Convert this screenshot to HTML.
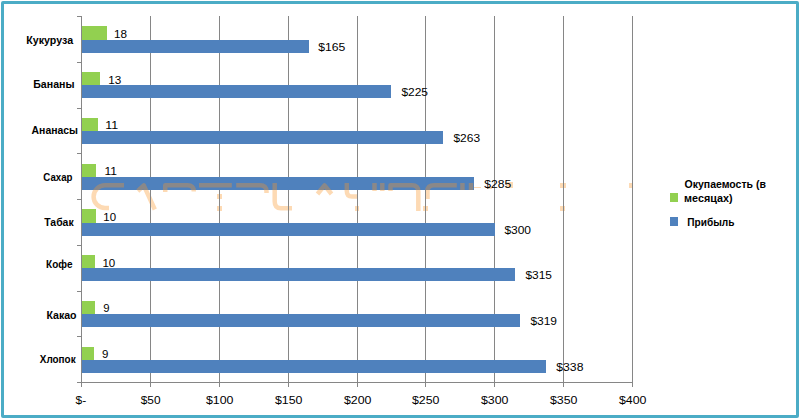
<!DOCTYPE html><html><head><meta charset="utf-8"><title>Chart</title><style>
html,body{margin:0;padding:0;background:#fff;width:799px;height:419px;overflow:hidden}
.frame{position:absolute;left:1px;top:1px;width:798px;height:417px;border:3px solid #4BACC6;box-sizing:border-box;border-radius:2px}
svg{position:absolute;left:0;top:0}
text{font-family:"Liberation Sans", "DejaVu Sans", sans-serif;fill:#000}
.c{font-weight:bold;font-size:11px}.v{font-size:11.5px}.l{font-weight:bold;font-size:11px}
</style></head><body>
<svg width="799" height="419" viewBox="0 0 799 419">
<g shape-rendering="crispEdges">
<rect x="474" y="187" width="7" height="1" fill="rgb(249,148,39)" fill-opacity="0.35"/>
<rect x="506" y="182" width="7" height="6" fill="rgb(249,148,39)" fill-opacity="0.35"/>
<rect x="488" y="186" width="4" height="3" fill="rgb(249,148,39)" fill-opacity="0.35"/>
<rect x="217" y="194" width="5" height="5" fill="rgb(249,148,39)" fill-opacity="0.35"/>
<rect x="217" y="206" width="5" height="5" fill="rgb(249,148,39)" fill-opacity="0.35"/>
<rect x="355" y="206" width="4" height="5" fill="rgb(249,148,39)" fill-opacity="0.35"/>
<rect x="423" y="206" width="5" height="5" fill="rgb(249,148,39)" fill-opacity="0.35"/>
<rect x="560" y="183" width="6" height="4.5" fill="rgb(249,148,39)" fill-opacity="0.35"/>
<rect x="560" y="206" width="5" height="5" fill="rgb(249,148,39)" fill-opacity="0.35"/>
<rect x="629" y="183" width="3" height="4.5" fill="rgb(249,148,39)" fill-opacity="0.35"/>
<rect x="150" y="16" width="1" height="371" fill="#868686"/>
<rect x="219" y="16" width="1" height="371" fill="#868686"/>
<rect x="288" y="16" width="1" height="371" fill="#868686"/>
<rect x="357" y="16" width="1" height="371" fill="#868686"/>
<rect x="425" y="16" width="1" height="371" fill="#868686"/>
<rect x="494" y="16" width="1" height="371" fill="#868686"/>
<rect x="563" y="16" width="1" height="371" fill="#868686"/>
<rect x="632" y="16" width="1" height="371" fill="#868686"/>
<rect x="82" y="26" width="25" height="14" fill="#92D050"/>
<rect x="82" y="40" width="227" height="13" fill="#4F81BD"/>
<rect x="82" y="72" width="18" height="13" fill="#92D050"/>
<rect x="82" y="85" width="309" height="13" fill="#4F81BD"/>
<rect x="82" y="118" width="16" height="13" fill="#92D050"/>
<rect x="82" y="131" width="361" height="13" fill="#4F81BD"/>
<rect x="82" y="164" width="14" height="13" fill="#92D050"/>
<rect x="82" y="177" width="392" height="13" fill="#4F81BD"/>
<rect x="82" y="209" width="14" height="14" fill="#92D050"/>
<rect x="82" y="223" width="413" height="13" fill="#4F81BD"/>
<rect x="82" y="255" width="13" height="13" fill="#92D050"/>
<rect x="82" y="268" width="433" height="13" fill="#4F81BD"/>
<rect x="82" y="301" width="13" height="13" fill="#92D050"/>
<rect x="82" y="314" width="438" height="13" fill="#4F81BD"/>
<rect x="82" y="347" width="12" height="13" fill="#92D050"/>
<rect x="82" y="360" width="464" height="13" fill="#4F81BD"/>
</g>
<g fill="none" stroke="rgb(249,148,39)" stroke-opacity="0.35" stroke-width="4.5" stroke-linejoin="round">
<path d="M124,185.25 H105 A11.4,11.4 0 0 0 105,208.05 H109"/>
<path d="M137.8,191 L143.8,185.4 L154.8,209.5"/>
<path d="M165.25,192 V185.25 H187.5 Q193.8,185.25 193.8,191.5"/>
<path d="M199,185.25 H231.8"/>
<path d="M236.2,185.25 H260 Q266.5,185.25 266.5,191.5 V193"/>
<path d="M274.7,183 V201.5 Q274.7,208.3 281,208.3 H292"/>
<path d="M317.5,194 L324.5,185.4 L331.5,194"/>
<path d="M346.8,183 V191 Q346.8,196.6 352,196.6 H357.5"/>
<path d="M374.5,183 V191"/>
<path d="M382.3,183 V191"/>
<path d="M390.5,191 V185.25 H412 Q418.3,185.25 418.3,191.5 V211"/>
<path d="M427.5,199 V191 Q427.5,185.25 434,185.25 H456.8"/>
<path d="M462.45,183 V190"/>
<path d="M471,183 V190"/>
</g>
<g shape-rendering="crispEdges">
<rect x="150" y="190" width="1" height="23" fill="#868686"/>
<rect x="219" y="190" width="1" height="23" fill="#868686"/>
<rect x="288" y="190" width="1" height="23" fill="#868686"/>
<rect x="357" y="190" width="1" height="23" fill="#868686"/>
<rect x="425" y="190" width="1" height="23" fill="#868686"/>
<rect x="494" y="181" width="1" height="32" fill="#868686"/>
<rect x="563" y="181" width="1" height="32" fill="#868686"/>
<rect x="632" y="181" width="1" height="32" fill="#868686"/>
<rect x="81" y="16" width="1" height="371" fill="#868686"/>
<rect x="77" y="382" width="556" height="1" fill="#868686"/>
<rect x="77" y="16" width="4" height="1" fill="#868686"/>
<rect x="77" y="62" width="4" height="1" fill="#868686"/>
<rect x="77" y="108" width="4" height="1" fill="#868686"/>
<rect x="77" y="153" width="4" height="1" fill="#868686"/>
<rect x="77" y="199" width="4" height="1" fill="#868686"/>
<rect x="77" y="245" width="4" height="1" fill="#868686"/>
<rect x="77" y="291" width="4" height="1" fill="#868686"/>
<rect x="77" y="336" width="4" height="1" fill="#868686"/>
<rect x="77" y="382" width="4" height="1" fill="#868686"/>
<rect x="670" y="193" width="8" height="9" fill="#92D050"/>
<rect x="670" y="217" width="8" height="9" fill="#4F81BD"/>
</g>
<text class="c" x="26.30" y="43.7" textLength="46.75" lengthAdjust="spacingAndGlyphs">Кукуруза</text>
<text class="c" x="33.25" y="87.6" textLength="41.20" lengthAdjust="spacingAndGlyphs">Бананы</text>
<text class="c" x="31.60" y="133.9" textLength="46.35" lengthAdjust="spacingAndGlyphs">Ананасы</text>
<text class="c" x="43.35" y="180.9" textLength="29.15" lengthAdjust="spacingAndGlyphs">Сахар</text>
<text class="c" x="44.25" y="225.9" textLength="29.35" lengthAdjust="spacingAndGlyphs">Табак</text>
<text class="c" x="46.10" y="267.8" textLength="26.40" lengthAdjust="spacingAndGlyphs">Кофе</text>
<text class="c" x="46.40" y="318.9" textLength="30.15" lengthAdjust="spacingAndGlyphs">Какао</text>
<text class="c" x="39.80" y="363.4" textLength="35.80" lengthAdjust="spacingAndGlyphs">Хлопок</text>
<text class="v" x="114.00" y="38" textLength="13.05" lengthAdjust="spacingAndGlyphs">18</text>
<text class="v" x="108.20" y="84" textLength="13.05" lengthAdjust="spacingAndGlyphs">13</text>
<text class="v" x="105.35" y="129" textLength="12.95" lengthAdjust="spacingAndGlyphs">11</text>
<text class="v" x="104.55" y="175" textLength="12.55" lengthAdjust="spacingAndGlyphs">11</text>
<text class="v" x="103.35" y="221" textLength="12.70" lengthAdjust="spacingAndGlyphs">10</text>
<text class="v" x="102.40" y="267" textLength="12.85" lengthAdjust="spacingAndGlyphs">10</text>
<text class="v" x="103.15" y="312" textLength="6.30" lengthAdjust="spacingAndGlyphs">9</text>
<text class="v" x="102.00" y="358" textLength="6.40" lengthAdjust="spacingAndGlyphs">9</text>
<text class="v" x="318.25" y="51" textLength="27.15" lengthAdjust="spacingAndGlyphs">$165</text>
<text class="v" x="401.40" y="96" textLength="26.65" lengthAdjust="spacingAndGlyphs">$225</text>
<text class="v" x="453.45" y="142" textLength="26.60" lengthAdjust="spacingAndGlyphs">$263</text>
<text class="v" x="484.25" y="188" textLength="26.95" lengthAdjust="spacingAndGlyphs">$285</text>
<text class="v" x="504.40" y="234" textLength="26.65" lengthAdjust="spacingAndGlyphs">$300</text>
<text class="v" x="525.40" y="279" textLength="26.50" lengthAdjust="spacingAndGlyphs">$315</text>
<text class="v" x="530.40" y="325" textLength="26.65" lengthAdjust="spacingAndGlyphs">$319</text>
<text class="v" x="556.30" y="371" textLength="27.15" lengthAdjust="spacingAndGlyphs">$338</text>
<text class="v" x="75.50" y="404" textLength="10.70" lengthAdjust="spacingAndGlyphs">$-</text>
<text class="v" x="140.75" y="404" textLength="19.80" lengthAdjust="spacingAndGlyphs">$50</text>
<text class="v" x="205.90" y="404" textLength="27.50" lengthAdjust="spacingAndGlyphs">$100</text>
<text class="v" x="274.90" y="404" textLength="27.50" lengthAdjust="spacingAndGlyphs">$150</text>
<text class="v" x="343.90" y="404" textLength="27.50" lengthAdjust="spacingAndGlyphs">$200</text>
<text class="v" x="411.90" y="404" textLength="27.50" lengthAdjust="spacingAndGlyphs">$250</text>
<text class="v" x="480.90" y="404" textLength="27.50" lengthAdjust="spacingAndGlyphs">$300</text>
<text class="v" x="549.90" y="404" textLength="27.50" lengthAdjust="spacingAndGlyphs">$350</text>
<text class="v" x="618.90" y="404" textLength="27.50" lengthAdjust="spacingAndGlyphs">$400</text>
<text class="l" x="684.55" y="188" textLength="81.35" lengthAdjust="spacingAndGlyphs">Окупаемость (в</text>
<text class="l" x="684.05" y="201.5" textLength="48.55" lengthAdjust="spacingAndGlyphs">месяцах)</text>
<text class="l" x="687.25" y="225.8" textLength="47.15" lengthAdjust="spacingAndGlyphs">Прибыль</text>
</svg>
<div class="frame"></div>
</body></html>
